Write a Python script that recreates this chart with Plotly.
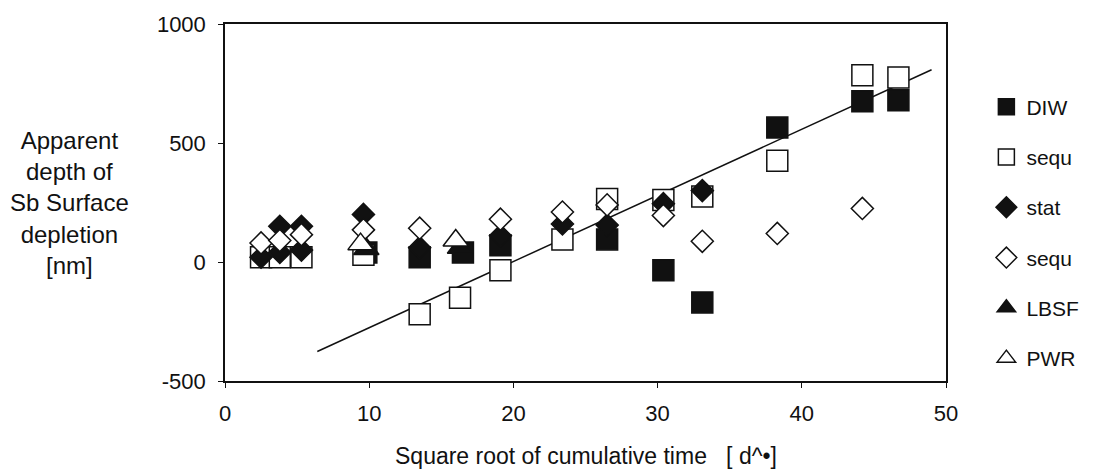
import plotly.graph_objects as go

# Square root of cumulative time [d^0.5] vs apparent depth of Sb surface depletion [nm]
diw_x = [9.8, 13.5, 16.5, 19.1, 26.5, 30.4, 33.1, 38.3, 44.2, 46.7]
diw_y = [40, 20, 40, 70, 95, -35, -170, 565, 675, 680]

sequ_sq_x = [2.5, 3.8, 5.3, 9.6, 13.5, 16.3, 19.1, 23.4, 26.5, 30.4, 33.1, 38.3, 44.2, 46.7]
sequ_sq_y = [20, 20, 20, 30, -220, -150, -35, 95, 265, 260, 275, 425, 785, 775]

stat_x = [2.5, 3.8, 3.8, 5.3, 5.3, 9.6, 13.5, 19.1, 23.4, 26.5, 30.4, 33.1]
stat_y = [20, 40, 150, 50, 150, 200, 60, 110, 160, 155, 245, 300]

sequ_dm_x = [2.5, 3.8, 5.3, 9.6, 13.5, 19.1, 23.4, 26.5, 30.4, 33.1, 38.3, 44.2]
sequ_dm_y = [80, 90, 115, 135, 142, 180, 210, 240, 195, 87, 120, 225]

lbsf_x = [9.8, 16.3]
lbsf_y = [55, 60]

pwr_x = [9.4, 16.0]
pwr_y = [75, 90]

# fitted trend line end points
trend_x = [6.4, 49.0]
trend_y = [-376, 808]

x_ticks = [0, 10, 20, 30, 40, 50]
y_ticks = [-500, 0, 500, 1000]
y_tick_text = ["-500", "0", "500", "1000"]

FONT = "Liberation Sans, Arial, Helvetica, sans-serif"
BLACK = "#111111"

fig = go.Figure()

fig.add_trace(go.Scatter(x=trend_x, y=trend_y, mode="lines",
                         line=dict(color=BLACK, width=1.5), showlegend=False))

series = [
    ("DIW", diw_x, diw_y, "square", BLACK, 21),
    ("sequ", sequ_sq_x, sequ_sq_y, "square", "white", 21),
    ("stat", stat_x, stat_y, "diamond", BLACK, 17),
    ("sequ", sequ_dm_x, sequ_dm_y, "diamond", "white", 17),
    ("LBSF", lbsf_x, lbsf_y, "triangle-up", BLACK, 22),
    ("PWR", pwr_x, pwr_y, "triangle-up", "white", 22),
]
for i, (name, xs, ys, sym, fill, size) in enumerate(series):
    fig.add_trace(go.Scatter(
        x=xs, y=ys, mode="markers", name=name, legendgroup=f"g{i}",
        marker=dict(symbol=sym, size=size, color=fill,
                    line=dict(color=BLACK, width=1.5)),
    ))

fig.update_layout(
    width=1098, height=476,
    margin=dict(l=225, r=152, t=21, b=95),
    paper_bgcolor="white", plot_bgcolor="white",
    font=dict(family=FONT, size=22, color=BLACK),
    showlegend=True,
    legend=dict(x=1.056, xanchor="left", y=0.825, yanchor="top",
                tracegroupgap=20, font=dict(size=21),
                bgcolor="rgba(0,0,0,0)", itemsizing="trace"),
    xaxis=dict(range=[0, 50], tickvals=x_ticks, ticks="outside", ticklen=5,
               tickcolor=BLACK, showline=True, linecolor=BLACK, linewidth=1.5,
               mirror=True, showgrid=False, zeroline=False,
               ticklabelstandoff=7),
    yaxis=dict(range=[-500, 1000], tickvals=y_ticks, ticktext=y_tick_text,
               ticks="outside", ticklen=5,
               tickcolor=BLACK, showline=True, linecolor=BLACK, linewidth=1.5,
               mirror=True, showgrid=False, zeroline=False,
               ticklabelstandoff=8),
    annotations=[
        dict(text="Apparent<br>depth of<br>Sb Surface<br>depletion<br>[nm]",
             xref="paper", yref="paper", x=-0.215, y=0.5, xanchor="center",
             yanchor="middle", showarrow=False, align="center",
             font=dict(size=24, family=FONT, color=BLACK)),
        dict(text="Square root of cumulative time   [ d^•]",
             xref="paper", yref="paper", x=0.5, y=-0.211, xanchor="center",
             yanchor="middle", showarrow=False,
             font=dict(size=23, family=FONT, color=BLACK)),
    ],
)

fig.write_html("out.html")
